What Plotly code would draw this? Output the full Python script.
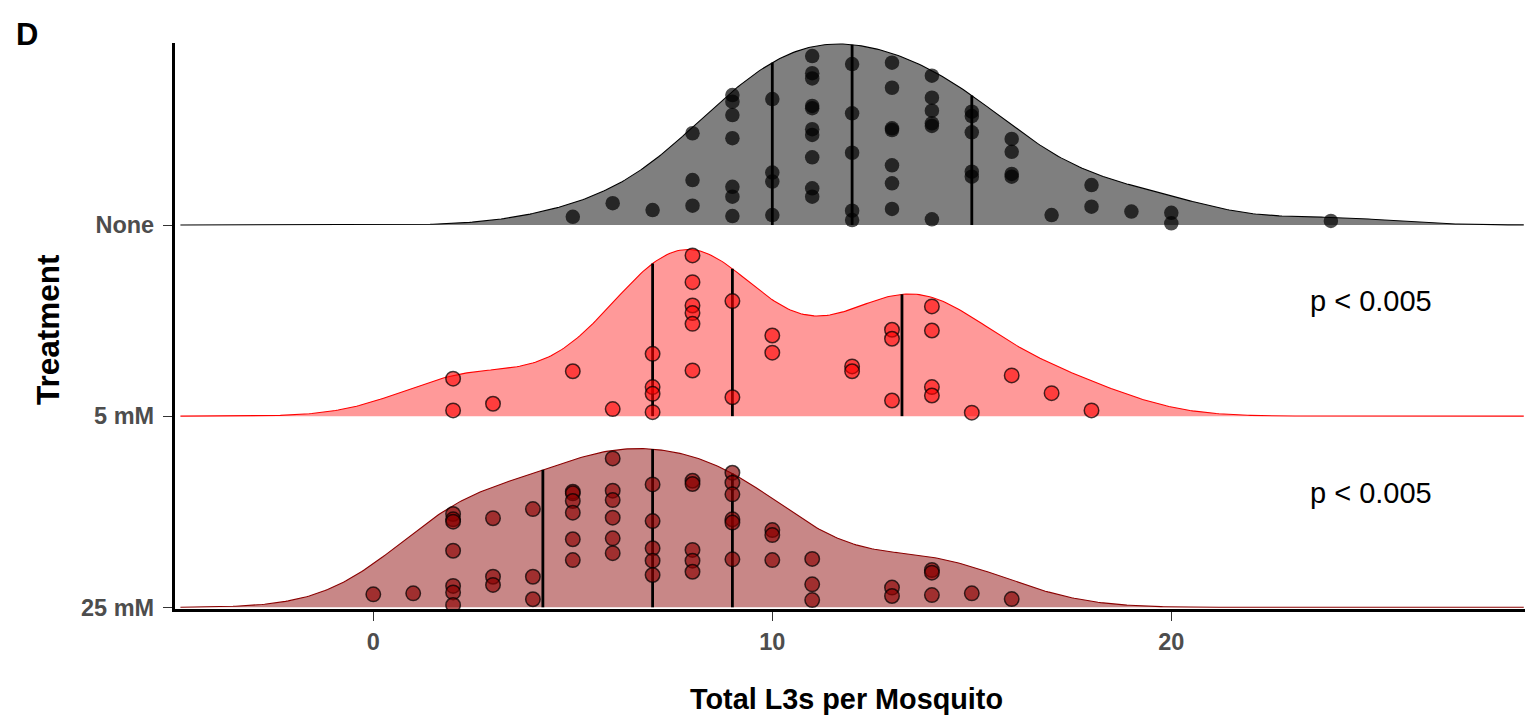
import numpy as np
import plotly.graph_objects as go

# ---------------- data ----------------
categories = ["25 mM", "5 mM", "None"]          # bottom -> top
group_positions = [0, 1, 2]

none_x = [5, 6, 7, 8, 8, 8,
          9, 9, 9, 9, 9, 9, 9,
          10, 10, 10, 10,
          11, 11, 11, 11, 11, 11, 11, 11, 11, 11,
          12, 12, 12, 12, 12,
          13, 13, 13, 13, 13, 13, 13,
          14, 14, 14, 14, 14, 14,
          15, 15, 15, 15, 15,
          16, 16, 16, 16,
          17, 18, 18, 19, 20, 20, 24]
none_jitter = [0.043, 0.114, 0.078, 0.480, 0.235, 0.101,
               0.680, 0.645, 0.575, 0.454, 0.200, 0.148, 0.047,
               0.659, 0.274, 0.227, 0.052,
               0.884, 0.794, 0.767, 0.623, 0.611, 0.501, 0.471, 0.354, 0.192, 0.148,
               0.842, 0.584, 0.378, 0.075, 0.026,
               0.849, 0.718, 0.506, 0.497, 0.312, 0.218, 0.084,
               0.781, 0.666, 0.598, 0.532, 0.518, 0.030,
               0.593, 0.570, 0.485, 0.279, 0.253,
               0.450, 0.383, 0.267, 0.253,
               0.052, 0.209, 0.096, 0.070, 0.064, 0.009, 0.021]

mm5_x = [2, 2, 3, 5, 6,
         7, 7, 7, 7,
         8, 8, 8, 8, 8, 8,
         9, 9, 10, 10, 12, 12,
         13, 13, 13,
         14, 14, 14, 14,
         15, 16, 17, 18]
mm5_jitter = [0.196, 0.030, 0.065, 0.235, 0.037,
              0.326, 0.152, 0.117, 0.021,
              0.841, 0.701, 0.579, 0.539, 0.483, 0.239,
              0.602, 0.099, 0.422, 0.332, 0.260, 0.235,
              0.452, 0.405, 0.082,
              0.574, 0.448, 0.152, 0.108,
              0.018, 0.213, 0.120, 0.030]

mm25_x = [0, 1,
          2, 2, 2, 2, 2, 2, 2,
          3, 3, 3, 4, 4, 4,
          5, 5, 5, 5, 5, 5,
          6, 6, 6, 6, 6, 6,
          7, 7, 7, 7, 7,
          8, 8, 8, 8, 8,
          9, 9, 9, 9, 9, 9,
          10, 10, 10, 11, 11, 11,
          13, 13, 14, 14, 14, 15, 16]
mm25_jitter = [0.068, 0.073,
               0.488, 0.460, 0.448, 0.296, 0.112, 0.078, 0.012,
               0.466, 0.160, 0.117, 0.514, 0.160, 0.042,
               0.605, 0.596, 0.556, 0.495, 0.356, 0.247,
               0.779, 0.610, 0.561, 0.469, 0.361, 0.283,
               0.643, 0.451, 0.309, 0.244, 0.169,
               0.662, 0.645, 0.300, 0.244, 0.186,
               0.704, 0.652, 0.591, 0.460, 0.443, 0.251,
               0.404, 0.378, 0.247, 0.253, 0.120, 0.038,
               0.103, 0.059, 0.195, 0.181, 0.064, 0.073, 0.043]

# quartile lines as drawn in the reference
none_quartiles = [10, 12, 15]
mm5_quartiles = [7, 9, 13.25]
mm25_quartiles = [4.25, 7, 9]

p_labels = ["p < 0.005", "p < 0.005"]      # for 5 mM and 25 mM
x_ticks = [0, 10, 20]

# ---------------- styling ----------------
FONT = "Liberation Sans, Arial, Helvetica, sans-serif"
W, H = 1525, 716
ML, MR, MT, MB = 175, 0, 43, 107
RIDGE_MAX = 0.947          # tallest ridge height in units of row spacing

groups = [
    dict(name="None", pos=2, x=none_x, j=none_jitter, q=none_quartiles,
         fill="rgba(0,0,0,0.5)", line="#000000",
         pfill="rgba(0,0,0,0.7)", pline="rgba(0,0,0,0)", plw=0),
    dict(name="5 mM", pos=1, x=mm5_x, j=mm5_jitter, q=mm5_quartiles,
         fill="rgba(255,0,0,0.4)", line="#FF0000",
         pfill="rgba(255,0,0,0.6)", pline="rgba(0,0,0,0.72)", plw=1.5),
    dict(name="25 mM", pos=0, x=mm25_x, j=mm25_jitter, q=mm25_quartiles,
         fill="rgba(139,0,0,0.47)", line="#8B0000",
         pfill="rgba(139,0,0,0.65)", pline="rgba(0,0,0,0.72)", plw=1.5),
]


# ---------------- density (Gaussian KDE, joint bandwidth like ggridges) ----------------
def bw_nrd0(v):
    v = np.asarray(v, float)
    sd = v.std(ddof=1)
    q75, q25 = np.percentile(v, [75, 25])
    lo = min(sd, (q75 - q25) / 1.34)
    return 0.9 * lo * len(v) ** -0.2


bw = float(np.mean([bw_nrd0(g["x"]) for g in groups]))
all_x = np.concatenate([np.asarray(g["x"], float) for g in groups])
grid = np.linspace(all_x.min() - 3 * bw, all_x.max() + 3 * bw, 512)


def kde(v, xs):
    v = np.asarray(v, float)
    z = (xs[:, None] - v[None, :]) / bw
    return np.exp(-0.5 * z ** 2).sum(axis=1) / (len(v) * bw * np.sqrt(2 * np.pi))


dens = {g["name"]: kde(g["x"], grid) for g in groups}
gmax = max(d.max() for d in dens.values())
factor = RIDGE_MAX / gmax

fig = go.Figure()

for g in groups:
    b = g["pos"]
    h = dens[g["name"]] * factor
    # filled area
    fig.add_trace(go.Scatter(
        x=np.concatenate([grid, grid[::-1]]),
        y=np.concatenate([b + h, np.full_like(grid, b)]),
        fill="toself", fillcolor=g["fill"], mode="lines",
        line=dict(width=0), hoverinfo="skip", showlegend=False))
    # ridge outline
    fig.add_trace(go.Scatter(
        x=grid, y=b + h, mode="lines",
        line=dict(color=g["line"], width=1.1), hoverinfo="skip", showlegend=False))
    # quartile lines
    qx, qy = [], []
    for q in g["q"]:
        hq = float(np.interp(q, grid, h))
        qx += [q, q, None]
        qy += [b, b + hq, None]
    fig.add_trace(go.Scatter(
        x=qx, y=qy, mode="lines", line=dict(color="#000000", width=2.8),
        hoverinfo="skip", showlegend=False))

for g in groups:
    b = g["pos"]
    fig.add_trace(go.Scatter(
        x=g["x"], y=[b + j for j in g["j"]], mode="markers",
        marker=dict(size=14.5, color=g["pfill"],
                    line=dict(color=g["pline"], width=g["plw"])),
        showlegend=False, name=g["name"]))

# ---------------- axes ----------------
px_per_x = 39.9
x0_px = 373.3
xr = [(ML - x0_px) / px_per_x, (W - MR - x0_px) / px_per_x]
plot_h = H - MT - MB
px_per_y = 191.15
base0_px = 607.3
yr = [-(H - MB - base0_px) / px_per_y, (base0_px - MT) / px_per_y]

fig.update_xaxes(range=xr, tickvals=x_ticks, ticktext=[str(t) for t in x_ticks],
                 showgrid=False, zeroline=False, showline=True, linecolor="#000000",
                 linewidth=3.2, ticks="outside", ticklen=9, tickwidth=1.1,
                 tickcolor="#333333", ticklabelstandoff=1,
                 tickfont=dict(family=FONT, size=23.5, color="#4D4D4D", weight="bold"))
fig.update_yaxes(range=yr, tickvals=group_positions, ticktext=categories,
                 showgrid=False, zeroline=False, showline=True, linecolor="#000000",
                 linewidth=3.2, ticks="outside", ticklen=9, tickwidth=1.1,
                 tickcolor="#333333", ticklabelstandoff=4,
                 tickfont=dict(family=FONT, size=23.5, color="#4D4D4D", weight="bold"))


def paper_x(px):
    return (px - ML) / (W - ML - MR)


def paper_y(py):
    return (H - MB - py) / plot_h


annotations = [
    dict(text="<b>D</b>", x=paper_x(14), y=paper_y(35), xanchor="left", yanchor="middle",
         font=dict(family=FONT, size=31, color="#000000")),
    dict(text="<b>Total L3s per Mosquito</b>", x=paper_x(846), y=paper_y(699),
         xanchor="center", yanchor="middle",
         font=dict(family=FONT, size=28.8, color="#000000")),
    dict(text="<b>Treatment</b>", x=paper_x(48), y=paper_y(330), xanchor="center",
         yanchor="middle", textangle=-90,
         font=dict(family=FONT, size=31.5, color="#000000")),
]
for lbl, pos in zip(p_labels, [1, 0]):
    annotations.append(dict(text=lbl, x=25.0, y=pos + 0.6, xref="x", yref="y",
                            xanchor="center", yanchor="middle", showarrow=False,
                            font=dict(family=FONT, size=29, color="#000000")))
for a in annotations:
    a.setdefault("xref", "paper")
    a.setdefault("yref", "paper")
    a["showarrow"] = False

fig.update_layout(width=W, height=H, margin=dict(l=ML, r=MR, t=MT, b=MB),
                  plot_bgcolor="#FFFFFF", paper_bgcolor="#FFFFFF",
                  annotations=annotations, showlegend=False)

fig.write_html("out.html")
